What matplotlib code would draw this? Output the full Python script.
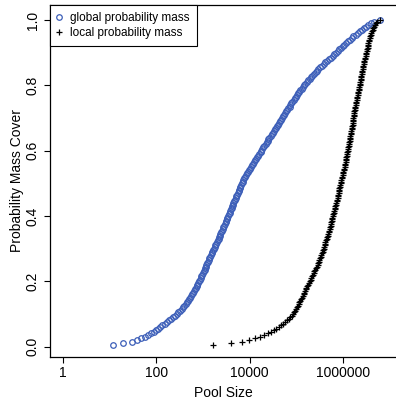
"""
Probability mass cover vs. pool size (global vs. local mass), R base-graphics look.
"""

import matplotlib

matplotlib.use("Agg")
import matplotlib.pyplot as plt
import numpy as np


# probability mass covered at each sample point (shared by both series)
mass_cover = [
    0.005, 0.010, 0.015, 0.020, 0.025, 0.030, 0.035, 0.040, 0.045, 0.050,
    0.055, 0.060, 0.065, 0.070, 0.075, 0.080, 0.085, 0.090, 0.095, 0.100,
    0.105, 0.110, 0.115, 0.120, 0.125, 0.130, 0.135, 0.140, 0.145, 0.150,
    0.155, 0.160, 0.165, 0.170, 0.175, 0.180, 0.185, 0.190, 0.195, 0.200,
    0.205, 0.210, 0.215, 0.220, 0.225, 0.230, 0.235, 0.240, 0.245, 0.250,
    0.255, 0.260, 0.265, 0.270, 0.275, 0.280, 0.285, 0.290, 0.295, 0.300,
    0.305, 0.310, 0.315, 0.320, 0.325, 0.330, 0.335, 0.340, 0.345, 0.350,
    0.355, 0.360, 0.365, 0.370, 0.375, 0.380, 0.385, 0.390, 0.395, 0.400,
    0.405, 0.410, 0.415, 0.420, 0.425, 0.430, 0.435, 0.440, 0.445, 0.450,
    0.455, 0.460, 0.465, 0.470, 0.475, 0.480, 0.485, 0.490, 0.495, 0.500,
    0.505, 0.510, 0.515, 0.520, 0.525, 0.530, 0.535, 0.540, 0.545, 0.550,
    0.555, 0.560, 0.565, 0.570, 0.575, 0.580, 0.585, 0.590, 0.595, 0.600,
    0.605, 0.610, 0.615, 0.620, 0.625, 0.630, 0.635, 0.640, 0.645, 0.650,
    0.655, 0.660, 0.665, 0.670, 0.675, 0.680, 0.685, 0.690, 0.695, 0.700,
    0.705, 0.710, 0.715, 0.720, 0.725, 0.730, 0.735, 0.740, 0.745, 0.750,
    0.755, 0.760, 0.765, 0.770, 0.775, 0.780, 0.785, 0.790, 0.795, 0.800,
    0.805, 0.810, 0.815, 0.820, 0.825, 0.830, 0.835, 0.840, 0.845, 0.850,
    0.855, 0.860, 0.865, 0.870, 0.875, 0.880, 0.885, 0.890, 0.895, 0.900,
    0.905, 0.910, 0.915, 0.920, 0.925, 0.930, 0.935, 0.940, 0.945, 0.950,
    0.955, 0.960, 0.965, 0.970, 0.975, 0.980, 0.985, 0.990, 0.995, 1.000,
]

# log10(pool size) needed to reach each mass_cover value
global_log_pool = [
    1.08, 1.28, 1.48, 1.58, 1.66, 1.75, 1.82, 1.89, 1.95, 2.00,
    2.04, 2.08, 2.13, 2.18, 2.22, 2.27, 2.31, 2.36, 2.40, 2.44,
    2.47, 2.51, 2.54, 2.57, 2.60, 2.63, 2.65, 2.68, 2.70, 2.73,
    2.75, 2.77, 2.79, 2.81, 2.83, 2.85, 2.86, 2.88, 2.90, 2.91,
    2.93, 2.95, 2.96, 2.98, 2.99, 3.01, 3.03, 3.04, 3.06, 3.07,
    3.09, 3.10, 3.12, 3.13, 3.15, 3.17, 3.18, 3.20, 3.21, 3.23,
    3.25, 3.26, 3.28, 3.29, 3.31, 3.33, 3.34, 3.36, 3.37, 3.39,
    3.40, 3.42, 3.43, 3.45, 3.46, 3.48, 3.49, 3.51, 3.52, 3.54,
    3.55, 3.57, 3.58, 3.60, 3.61, 3.62, 3.64, 3.65, 3.67, 3.68,
    3.70, 3.71, 3.73, 3.74, 3.76, 3.77, 3.79, 3.80, 3.82, 3.83,
    3.85, 3.86, 3.88, 3.90, 3.92, 3.94, 3.96, 3.98, 4.01, 4.03,
    4.05, 4.07, 4.09, 4.12, 4.14, 4.16, 4.18, 4.20, 4.23, 4.25,
    4.27, 4.29, 4.31, 4.34, 4.36, 4.38, 4.40, 4.42, 4.45, 4.47,
    4.49, 4.51, 4.53, 4.56, 4.58, 4.60, 4.62, 4.65, 4.67, 4.69,
    4.71, 4.73, 4.76, 4.78, 4.80, 4.82, 4.85, 4.87, 4.89, 4.91,
    4.94, 4.96, 4.98, 5.01, 5.03, 5.06, 5.08, 5.11, 5.14, 5.16,
    5.19, 5.22, 5.25, 5.28, 5.31, 5.34, 5.37, 5.41, 5.44, 5.47,
    5.51, 5.55, 5.58, 5.62, 5.66, 5.70, 5.74, 5.78, 5.81, 5.85,
    5.88, 5.92, 5.95, 5.99, 6.02, 6.06, 6.10, 6.14, 6.18, 6.22,
    6.27, 6.31, 6.35, 6.40, 6.44, 6.49, 6.54, 6.59, 6.65, 6.79,
]

local_log_pool = [
    3.21, 3.60, 3.83, 3.99, 4.11, 4.21, 4.30, 4.38, 4.45, 4.51,
    4.57, 4.62, 4.67, 4.72, 4.76, 4.80, 4.84, 4.87, 4.90, 4.93,
    4.95, 4.97, 4.99, 5.01, 5.03, 5.05, 5.06, 5.08, 5.10, 5.12,
    5.13, 5.15, 5.17, 5.18, 5.20, 5.21, 5.23, 5.25, 5.26, 5.28,
    5.30, 5.31, 5.33, 5.35, 5.37, 5.38, 5.40, 5.42, 5.43, 5.45,
    5.46, 5.48, 5.49, 5.50, 5.52, 5.53, 5.54, 5.56, 5.57, 5.58,
    5.59, 5.60, 5.61, 5.62, 5.64, 5.65, 5.66, 5.67, 5.68, 5.69,
    5.70, 5.71, 5.72, 5.73, 5.74, 5.74, 5.75, 5.76, 5.77, 5.78,
    5.79, 5.80, 5.81, 5.82, 5.83, 5.83, 5.84, 5.85, 5.86, 5.87,
    5.88, 5.88, 5.89, 5.90, 5.91, 5.92, 5.92, 5.93, 5.94, 5.95,
    5.96, 5.96, 5.97, 5.98, 5.99, 6.00, 6.00, 6.01, 6.02, 6.03,
    6.04, 6.04, 6.05, 6.06, 6.06, 6.07, 6.08, 6.09, 6.09, 6.10,
    6.11, 6.11, 6.12, 6.12, 6.13, 6.14, 6.14, 6.15, 6.15, 6.16,
    6.17, 6.17, 6.18, 6.18, 6.19, 6.20, 6.20, 6.21, 6.21, 6.22,
    6.23, 6.23, 6.24, 6.24, 6.25, 6.26, 6.26, 6.27, 6.27, 6.28,
    6.29, 6.29, 6.30, 6.31, 6.31, 6.32, 6.33, 6.34, 6.34, 6.35,
    6.36, 6.36, 6.37, 6.38, 6.38, 6.39, 6.40, 6.41, 6.41, 6.42,
    6.43, 6.43, 6.44, 6.45, 6.45, 6.46, 6.47, 6.48, 6.48, 6.49,
    6.50, 6.51, 6.52, 6.53, 6.54, 6.54, 6.55, 6.56, 6.57, 6.58,
    6.59, 6.60, 6.62, 6.63, 6.64, 6.66, 6.68, 6.70, 6.73, 6.79,
]

x_ticks = [1, 100, 10000, 1000000]
x_tick_labels = ["1", "100", "10000", "1000000"]
y_ticks = [0.0, 0.2, 0.4, 0.6, 0.8, 1.0]
y_tick_labels = ["0.0", "0.2", "0.4", "0.6", "0.8", "1.0"]

BLUE = "#3c5eb8"


def main() -> None:
    plt.rcParams["font.family"] = ["Liberation Sans", "DejaVu Sans"]

    W, H = 396, 400
    fig = plt.figure(figsize=(W / 100, H / 100), dpi=100)
    # plot region in pixels: left 50, bottom 357, top 5, right runs off the image
    ax = fig.add_axes([50 / W, 1 - 357 / H, (W - 50) / W, (357 - 5) / H])

    ax.plot(
        10 ** np.array(global_log_pool),
        mass_cover,
        linestyle="none",
        marker="o",
        markersize=4.0,
        markerfacecolor="none",
        markeredgecolor=BLUE,
        markeredgewidth=0.9,
        label="global probability mass",
    )
    ax.plot(
        10 ** np.array(local_log_pool),
        mass_cover,
        linestyle="none",
        marker="+",
        markersize=4.2,
        color="black",
        markeredgewidth=0.9,
        label="local probability mass",
    )

    ax.set_xscale("log")
    ax.set_xlim(10 ** -0.278, 10 ** 7.13)
    ax.set_ylim(-0.032, 1.046)

    ax.set_xticks(x_ticks)
    ax.set_xticklabels(x_tick_labels)
    ax.xaxis.set_minor_locator(matplotlib.ticker.NullLocator())
    ax.set_yticks(y_ticks)
    ax.set_yticklabels(y_tick_labels, rotation=90, va="center")

    ax.tick_params(axis="both", direction="out", length=4.5, width=0.8,
                   labelsize=10, colors="black")
    ax.tick_params(axis="x", pad=2)
    ax.tick_params(axis="y", pad=3)

    for side in ("left", "bottom", "top"):
        ax.spines[side].set_linewidth(0.9)
        ax.spines[side].set_color("black")
    ax.spines["right"].set_visible(False)

    ax.set_xlabel("Pool Size", fontsize=10, labelpad=4)
    ax.set_ylabel("Probability Mass Cover", fontsize=10, labelpad=1)

    leg = ax.legend(
        loc="upper left",
        bbox_to_anchor=(0, 1),
        borderaxespad=0,
        frameon=True,
        fancybox=False,
        framealpha=1,
        edgecolor="black",
        fontsize=8.5,
        handlelength=0.4,
        handletextpad=0.7,
        borderpad=0.6,
        labelspacing=0.25,
        markerscale=1.0,
    )
    leg.get_frame().set_linewidth(0.8)

    fig.savefig("out.png", dpi=100)
    plt.close(fig)


if __name__ == "__main__":
    main()
